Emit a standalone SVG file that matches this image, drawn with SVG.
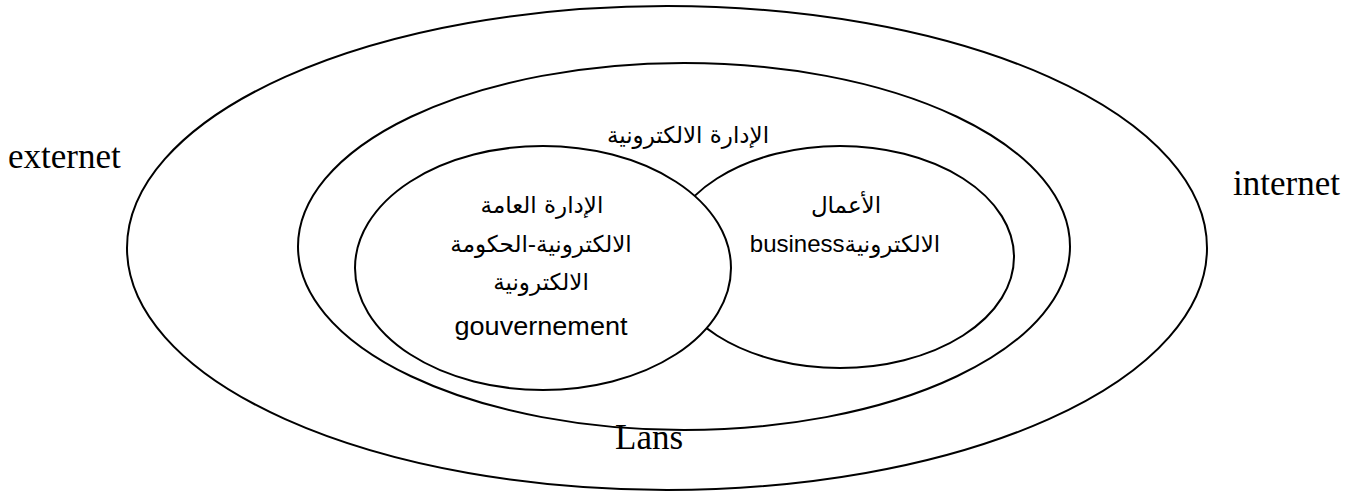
<svg xmlns="http://www.w3.org/2000/svg" width="1357" height="495" viewBox="0 0 1357 495">
  <style>
    .ring { fill: #ffffff; stroke: #000000; stroke-width: 2; }
    .ar { font-family: "DejaVu Sans", "Noto Sans", sans-serif; font-size: 23px; fill: #000000; text-anchor: middle; }
    .lat { font-family: "Liberation Sans", Arial, sans-serif; font-size: 25px; fill: #000000; text-anchor: middle; }
    .serif { font-family: "Liberation Serif", "Times New Roman", serif; font-size: 35px; fill: #000000; }
  </style>
  <rect width="1357" height="495" fill="#ffffff"/>

  <!-- outer zone: internet / externet -->
  <g id="outer">
    <ellipse class="ring" cx="667" cy="248" rx="540" ry="242"/>
  </g>

  <!-- local networks zone -->
  <g id="lans">
    <ellipse class="ring" cx="684" cy="246.5" rx="386" ry="183.5"/>
    <text class="ar" x="688" y="143">الإدارة الالكترونية</text>
  </g>

  <!-- e-business -->
  <g id="business">
    <ellipse class="ring" cx="840" cy="257" rx="174" ry="111"/>
    <text class="ar" x="846" y="213">الأعمال</text>
    <text class="lat" x="845" y="252"><tspan font-size="24">business</tspan><tspan class="ar">الالكترونية</tspan></text>
  </g>

  <!-- e-government, drawn above e-business -->
  <g id="government">
    <ellipse class="ring" cx="543" cy="268" rx="188" ry="122"/>
    <text class="ar" x="542" y="213">الإدارة العامة</text>
    <text class="ar" x="541" y="252">الالكترونية-الحكومة</text>
    <text class="ar" x="541" y="290">الالكترونية</text>
    <text class="lat" x="541" y="335" textLength="173" lengthAdjust="spacingAndGlyphs">gouvernement</text>
  </g>

  <!-- zone labels -->
  <g id="labels">
    <text class="serif" x="8" y="168">externet</text>
    <text class="serif" x="1233" y="195">internet</text>
    <text class="serif" x="615" y="449">Lans</text>
  </g>
</svg>
